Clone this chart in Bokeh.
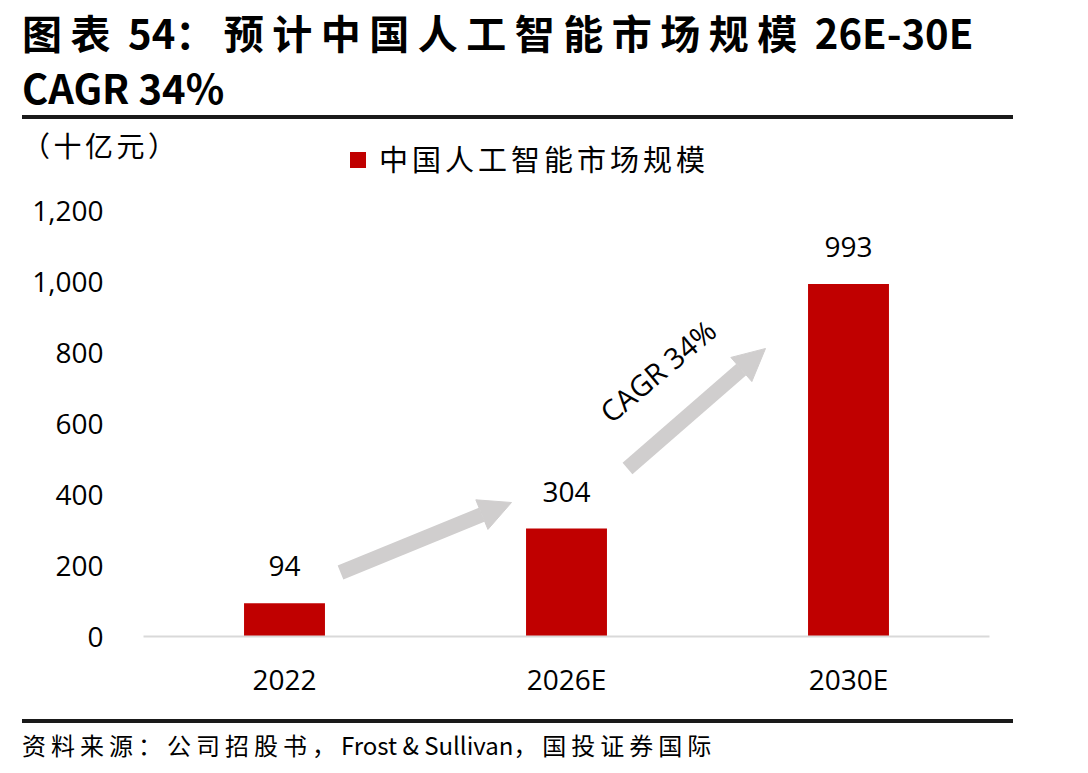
from bokeh.plotting import figure
from bokeh.layouts import column
from bokeh.models import (ColumnDataSource, FactorRange, Range1d, Label, LabelSet,
                          Arrow, NormalHead, NumeralTickFormatter, FixedTicker, Div)
from bokeh.core.properties import value
from bokeh.embed import file_html
from bokeh.resources import INLINE

# ---- data ----
years = ["2022", "2026E", "2030E"]
market = [94, 304, 993]
market_labels = ["94", "304", "993"]
y_ticks = [0, 200, 400, 600, 800, 1000, 1200]
series_name = "中国人工智能市场规模"
title_parts = [("图表", True), (" 54", False), ("：预计中国人工智能市场规模", True), (" 26E-30E", False)]
title_line2 = "CAGR 34%"
unit_text = "（十亿元）"
cagr_text = "CAGR 34%"
source_parts = [("资料来源：公司招股书，", True), ("Frost & Sullivan", False), ("，国投证券国际", True)]

# ---- layout constants (canvas pixels) ----
W, H = 1088, 773
HEAD_H = 176          # header strip height
FOOT_Y = 710          # footer strip top
FL, FR, FT, FB = 143, 989, 210, 636
YMAX = 1200

RED = "#c00000"
GRAY = "#d0cece"
RULE = "#1a1a1a"
CJK = "Noto Sans CJK SC"
NUM = "Open Sans"


def sx(X):
    return (X - FL) / (FR - FL) * len(years)


def sy(Y):
    return (FB - Y) / (FB - FT) * YMAX


def spans(parts, ls, latin_size=None):
    out = []
    for txt, cjk in parts:
        if cjk:
            out.append(f'<span style="letter-spacing:{ls}px">{txt}</span>')
        else:
            st = f'font-size:{latin_size}px;' if latin_size else ''
            out.append(f'<span style="{st}">{txt.replace("&", "&amp;")}</span>')
    return "".join(out)


def abs_text(left, cy, size, inner, bold=False):
    return (f'<div style="position:absolute;left:{left}px;top:{cy - size}px;height:{2 * size}px;'
            f'line-height:{2 * size}px;font-size:{size}px;white-space:nowrap;'
            f'font-weight:{"bold" if bold else "normal"};">{inner}</div>')


def rule(left, cy, width, thick):
    return (f'<div style="position:absolute;left:{left}px;top:{cy - thick / 2}px;'
            f'width:{width}px;height:{thick}px;background:{RULE};"></div>')


# ---- header ----
head_html = (
    f'<div style="position:relative;width:{W}px;height:{HEAD_H}px;font-family:\'{CJK}\';color:black;">'
    + abs_text(22, 32, 40, spans(title_parts, 8.5), bold=True)
    + abs_text(22, 87, 40, title_line2, bold=True)
    + rule(22, 117, 991, 3.5)
    + abs_text(22, 145, 28, f'<span style="letter-spacing:3.5px">{unit_text}</span>')
    + f'<div style="position:absolute;left:350px;top:152px;width:16px;height:16px;background:{RED};"></div>'
    + abs_text(379, 158, 29, f'<span style="letter-spacing:4px">{series_name}</span>')
    + '</div>'
)
hd = Div(text=head_html, width=W, height=HEAD_H, margin=(0, 0, 0, 0))

# ---- main chart ----
src = ColumnDataSource(dict(x=years, top=market, lab=market_labels))

p = figure(width=W, height=FOOT_Y - HEAD_H, x_range=FactorRange(*years),
           y_range=Range1d(0, YMAX), output_backend="svg", toolbar_location=None,
           min_border_left=FL, min_border_right=W - FR,
           min_border_top=FT - HEAD_H, min_border_bottom=FOOT_Y - FB,
           margin=(0, 0, 0, 0))
p.x_range.range_padding = 0
p.outline_line_color = None
p.grid.grid_line_color = None
p.background_fill_color = "white"
p.border_fill_color = "white"

bars = p.vbar(x="x", top="top", width=0.287, source=src, fill_color=RED, line_color=None)

p.yaxis.ticker = FixedTicker(ticks=y_ticks)
p.yaxis.formatter = NumeralTickFormatter(format="0,0")
p.yaxis.axis_line_color = None
p.yaxis.major_tick_line_color = None
p.yaxis.minor_tick_line_color = None
p.yaxis.major_label_standoff = 34
p.yaxis.major_label_text_font = NUM
p.yaxis.major_label_text_font_size = "28px"
p.yaxis.major_label_text_color = "black"

p.xaxis.axis_line_color = "#d9d9d9"
p.xaxis.axis_line_width = 2
p.xaxis.major_tick_line_color = None
p.xaxis.minor_tick_line_color = None
p.xaxis.major_label_standoff = 17
p.xaxis.major_label_text_font = NUM
p.xaxis.major_label_text_font_size = "28px"
p.xaxis.major_label_text_color = "black"

p.add_layout(LabelSet(x="x", y="top", text="lab", source=src, y_offset=37,
                      text_align="center", text_baseline="middle",
                      text_font=value(NUM), text_font_size="28px", text_color="black"))

for (x0, y0, x1, y1) in [(340, 572, 511, 502), (627, 468, 765, 348)]:
    p.add_layout(Arrow(end=NormalHead(size=32, fill_color=GRAY, line_color=GRAY, line_width=1),
                       x_start=sx(x0), y_start=sy(y0), x_end=sx(x1), y_end=sy(y1),
                       line_color=GRAY, line_width=15))
p.add_layout(Label(x=sx(657), y=sy(370), text=cagr_text, angle=40, angle_units="deg",
                   text_align="center", text_baseline="middle",
                   text_font=NUM, text_font_size="29px", text_color="black"))

# ---- footer ----
FOOT_H = H - FOOT_Y
foot_html = (
    f'<div style="position:relative;width:{W}px;height:{FOOT_H}px;font-family:\'{CJK}\';color:black;">'
    + rule(22, 721 - FOOT_Y, 991, 3.5)
    + abs_text(22, 745 - FOOT_Y, 24, spans(source_parts, 5, latin_size=24))
    + '</div>'
)
ft = Div(text=foot_html, width=W, height=FOOT_H, margin=(0, 0, 0, 0))

layout = column(hd, p, ft, spacing=0)
open("out.html", "w").write(file_html(layout, INLINE))
